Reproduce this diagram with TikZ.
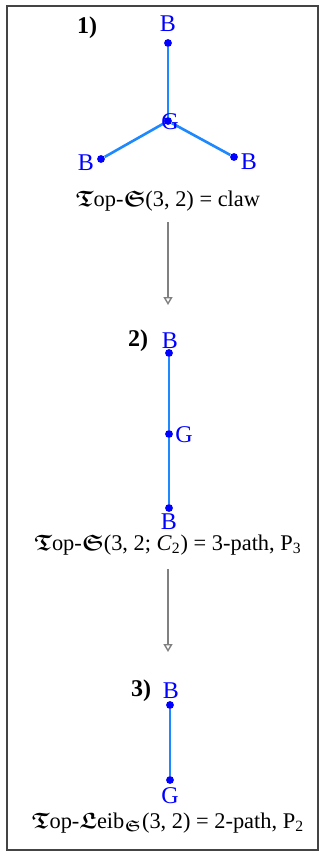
\documentclass[tikz,border=0pt]{standalone}
\usepackage{amsmath, amssymb}
\usepackage{bm}
\usepackage{fontspec}
\setmainfont{Liberation Serif}
\usetikzlibrary{arrows.meta}
\definecolor{vblue}{HTML}{0000FF}
\definecolor{eblue}{HTML}{1E88FF}
\definecolor{framegray}{HTML}{444444}
\newcommand{\frk}[1]{\bm{\mathfrak{#1}}}
\newcommand{\topS}{$\frk{T}$op-$\frk{S}$}

\begin{document}
\begin{tikzpicture}[x=0.5pt, y=-0.5pt, font=\fontsize{11.2}{13}\selectfont,
  vert/.style={circle, fill=vblue, inner sep=0pt, minimum size=3.9pt},
  vlab/.style={text=vblue, inner sep=0pt, text depth=0pt, font=\fontsize{12}{14}\selectfont},
  edge/.style={eblue, line width=1.3pt},
  stage/.style={font=\fontsize{12}{14}\selectfont\bfseries, inner sep=0pt},
  captxt/.style={inner sep=0pt},
  flow/.style={draw=gray, line width=0.7pt, -{Triangle[open, length=4pt, width=4.5pt]}}]
  \useasboundingbox (0,0) rectangle (322,857);
  \draw[framegray, line width=0.8pt] (7,6) rectangle (318,850);

  % 1) the claw
  \node[stage] (s1) at (87,28) {1)};
  \node[vert] (c1) at (168,121) {};
  \node[vert] (t1) at (168,43) {};
  \node[vert] (l1) at (101,159) {};
  \node[vert] (r1) at (234,157) {};
  \draw[edge] (c1) -- (t1);
  \draw[edge] (c1) -- (l1);
  \draw[edge] (c1) -- (r1);
  \node[vlab] (t1lab) at (168,24) {B};
  \node[vlab] (c1lab) at (170,122) {G};
  \node[vlab] (l1lab) at (86,163) {B};
  \node[vlab] (r1lab) at (249,162) {B};
  \node[captxt] (cap1) at (168,201) {\topS(3, 2) = claw};

  % 2) the 3-path
  \node[stage] (s2) at (138,341) {2)};
  \node[vert] (t2) at (169,353) {};
  \node[vert] (m2) at (169,434) {};
  \node[vert] (b2) at (169,508) {};
  \draw[edge] (t2) -- (m2) -- (b2);
  \node[vlab] (t2lab) at (170,341) {B};
  \node[vlab] (m2lab) at (184,435) {G};
  \node[vlab] (b2lab) at (169,522) {B};
  \node[captxt] (cap2) at (168,545) {\topS(3, 2; \textit{C}\textsubscript{2}) = 3-path, P\textsubscript{3}};

  % 3) the 2-path
  \node[stage] (s3) at (141,691) {3)};
  \node[vert] (t3) at (170,705) {};
  \node[vert] (b3) at (170,780) {};
  \draw[edge] (t3) -- (b3);
  \node[vlab] (t3lab) at (171,691) {B};
  \node[vlab] (b3lab) at (170,796) {G};
  \node[captxt] (cap3) at (168,823) {$\frk{T}$op-$\frk{L}$eib$_{\frk{S}}$(3, 2) = 2-path, P\textsubscript{2}};

  % reduction arrows
  \coordinate (a1) at (168,305);
  \coordinate (a2) at (168,652);
  \draw[flow] (cap1) ++(0,21) -- (a1);
  \draw[flow] (cap2) ++(0,24) -- (a2);
\end{tikzpicture}
\end{document}
